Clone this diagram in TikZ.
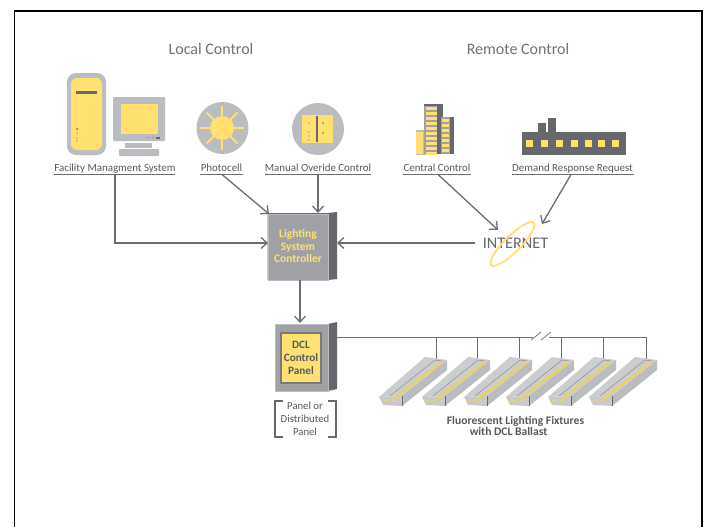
\documentclass[tikz,border=0pt]{standalone}
\usepackage{fontspec}
\setmainfont{Carlito}
\usetikzlibrary{arrows.meta}
\definecolor{ylw}{HTML}{FFE070}
\definecolor{lgr}{HTML}{BBBCBF}
\definecolor{mgr}{HTML}{A0A1A4}
\definecolor{dgr}{HTML}{67686B}
\definecolor{line}{HTML}{6D6E71}
\definecolor{txt}{HTML}{58595B}
\definecolor{fixy}{HTML}{EBD25E}
\tikzset{
 x=1pt,y=-1pt,
 lab/.style={font=\fontsize{10.9}{12}\selectfont,text=txt,inner sep=0pt,anchor=base},
 head/.style={font=\fontsize{16}{18}\selectfont,text=txt!85,inner sep=0pt,anchor=base},
 uline/.style={draw=line,line width=1.3pt},
 conn/.style={draw=line,line width=1.3pt,-{Straight Barb[length=6pt,width=11pt,line width=1.3pt]}},
 wire/.style={draw=line,line width=.9pt},
}
\newcommand{\fixture}[2]{%
 \begin{scope}[shift={(#1,#2)}]
 \fill[lgr!75!white] (0,0) -- (46,-40) -- (68,-37) -- (23,-1) -- cycle;
 \fill[lgr!80!white] (0,0) -- (23,-1) -- (23,9) -- (4,8) -- cycle;
 \fill[lgr] (23,-1) -- (68,-37) -- (68,-27) -- (23,9) -- cycle;
 \draw[dgr,line width=.5pt] (23,-1) -- (23,9);
 \draw[dgr!80,line width=.45pt] (11,-1) -- (56,-37) -- (63,-36);
 \draw[fixy,line width=2.2pt] (14,2) -- (63,-35);
 \draw[fixy,line width=1.8pt] (4,3.5) -- (8,3);
 \draw[fixy,line width=1.8pt] (12,3) -- (16,2.5);
 \end{scope}}
\begin{document}
\begin{tikzpicture}
\useasboundingbox (0,0) rectangle (706,527);
\fill[white] (0,0) rectangle (706,527);
\draw[black,line width=1.6pt] (14.5,527) -- (14.5,11) -- (702,11) -- (702,527);
% headings
\node[head] (hl) at (211,55) {Local Control};
\node[head] (hr) at (518,55) {Remote Control};
% computer
\fill[lgr,rounded corners=9pt] (67,73) rectangle (106,155);
\fill[ylw,rounded corners=6pt] (71,78) rectangle (102,150);
\fill[dgr] (76,91) rectangle (97,94);
\fill[dgr] (77,129) circle (1pt);
\foreach \y in {133,138,141} \fill[dgr] (77,\y) circle (.6pt);
\fill[lgr,rounded corners=1pt] (113,97) rectangle (165,141);
\fill[ylw] (121,104) rectangle (158,134);
\fill[dgr] (156,136.5) rectangle (160,139);
\foreach \x in {147,150,153} \fill[dgr] (\x,137.5) circle (.5pt);
\fill[lgr] (125,143) rectangle (152,148);
\fill[lgr,rounded corners=1pt] (119,149) rectangle (159,156);
% photocell
\fill[lgr] (222.5,128) circle (26pt);
\fill[ylw] (222,128) circle (12pt);
\foreach \a in {0,45,...,315} \draw[ylw,line width=2pt] (222,128) ++(\a:11) -- ++(\a:11);
% manual
\fill[lgr] (318,129) circle (26pt);
\fill[ylw] (302,115) rectangle (333,143);
\draw[dgr,line width=1.5pt] (317,116) -- (317,142);
\foreach \y in {123,132,136,140} \fill[dgr] (309,\y) circle (.6pt);
\fill[dgr] (323,123) circle (.8pt);
\fill[dgr] (323,133) circle (.8pt);
% central control
\fill[lgr] (416,130) rectangle (426,155);
\fill[ylw] (416,132) rectangle (423,154);
\fill[mgr] (424,104) rectangle (443,154);
\fill[dgr] (437,104) rectangle (443,154);
\fill[dgr] (424,104) rectangle (443,106);
\foreach \y in {107,112,...,152} \fill[ylw] (426,\y) rectangle (437,\y+3);
\fill[dgr] (441,117) rectangle (454,154);
\fill[mgr] (441,117) rectangle (450,154);
\foreach \y in {119,124,...,152} \fill[ylw] (442,\y) rectangle (449,\y+3);
% factory
\fill[dgr] (522,132) rectangle (626,155);
\fill[dgr] (538,123) rectangle (546,132);
\fill[dgr] (548,118) rectangle (556,132);
\foreach \x in {526,541,556,571,585,598,612} \fill[ylw] (\x,140) rectangle (\x+7,147);
% labels
\node[lab] (fms) at (115,171) {Facility Managment System};
\draw[uline] (54,174.5) -- (175,174.5);
\coordinate (fmsb) at (115,174.5);
\node[lab] (pho) at (221.5,171) {Photocell};
\draw[uline] (200,174.5) -- (243,174.5);
\coordinate (phob) at (222,174.5);
\node[lab] (man) at (318,171) {Manual Overide Control};
\draw[uline] (265,174.5) -- (371,174.5);
\coordinate (manb) at (318,174.5);
\node[lab] (cen) at (437,171) {Central Control};
\draw[uline] (403,174.5) -- (471,174.5);
\coordinate (cenb) at (438,174.5);
\node[lab] (dem) at (572.5,171) {Demand Response Request};
\draw[uline] (512,174.5) -- (634,174.5);
\coordinate (demb) at (571,174.5);
% controller
\fill[dgr] (267.5,213) -- (328,213) -- (337,212) -- (337,279) -- (328,280) -- (267.5,280) -- cycle;
\fill[mgr,draw=lgr,line width=.6pt] (268,214) rectangle (328,280);
\node[font=\bfseries\fontsize{11.5}{12.6}\selectfont,text=ylw,align=center,inner sep=0pt] (lsc) at (298,246) {Lighting\\System\\Controller};
\coordinate (lscW) at (268,243);
\coordinate (lscE) at (337,243);
\coordinate (lscN) at (318,213);
\coordinate (lscNW) at (269,214);
\coordinate (lscS) at (300,280);
% panel
\fill[dgr] (275,324) -- (328,324) -- (337,322) -- (337,389) -- (328,391) -- (275,391) -- cycle;
\fill[mgr,draw=lgr,line width=.6pt] (275,324) rectangle (328,391);
\fill[dgr!80!lgr] (280,332) rectangle (322,384);
\fill[ylw] (282,334) rectangle (320,382);
\node[font=\bfseries\fontsize{11.2}{12.7}\selectfont,text=txt,align=center,inner sep=0pt] (dcl) at (301,358) {DCL\\Control\\Panel};
\coordinate (dclN) at (300,323);
\coordinate (dclE) at (337,337);
% bracket
\draw[dgr,line width=2pt] (283,401) -- (275,401) -- (275,437) -- (283,437);
\draw[dgr,line width=2pt] (328,401) -- (336,401) -- (336,437) -- (328,437);
\node[font=\fontsize{10.7}{12.8}\selectfont,text=txt,align=center,inner sep=0pt] (pan) at (305,419) {Panel or\\Distributed\\Panel};
% internet
\node[font=\fontsize{16.2}{18}\selectfont,text=dgr,inner sep=0pt] (net) at (515.5,243) {INTERNET};
\draw[ylw,line width=1.8pt,rotate around={45:(512.5,244)}] (512.5,244) ellipse (30 and 8);
\coordinate (netW) at (475,243);
\coordinate (netA) at (498,230);
\coordinate (netB) at (542,224);
% connectors
\draw[conn] (fmsb) -- (115,243) -- (lscW);
\draw[conn] (phob) -- (lscNW);
\draw[conn] (manb) -- (lscN);
\draw[conn] (netW) -- (lscE);
\draw[conn] (cenb) -- (netA);
\draw[conn] (demb) -- (netB);
\draw[conn] (lscS) -- (dclN);
% wires
\draw[wire] (dclE) -- (533,337);
\draw[wire] (549,337) -- (647,337);
\draw[line,line width=.7pt] (531,340) -- (541,332);
\draw[line,line width=.7pt] (541,340) -- (551,332);
\foreach \x in {436,477,519,561,603,646} \draw[wire] (\x,337) -- (\x,359);
% fixtures
\fixture{379}{397}
\fixture{422}{397}
\fixture{464}{397}
\fixture{506}{397}
\fixture{548}{397}
\fixture{589}{397}
\node[font=\bfseries\fontsize{11.6}{11.8}\selectfont,text=txt,align=center,inner sep=0pt] (fl) at (515.5,426) {Fluorescent Lighting Fixtures\\with DCL Ballast\hspace*{14pt}};
\end{tikzpicture}
\end{document}
